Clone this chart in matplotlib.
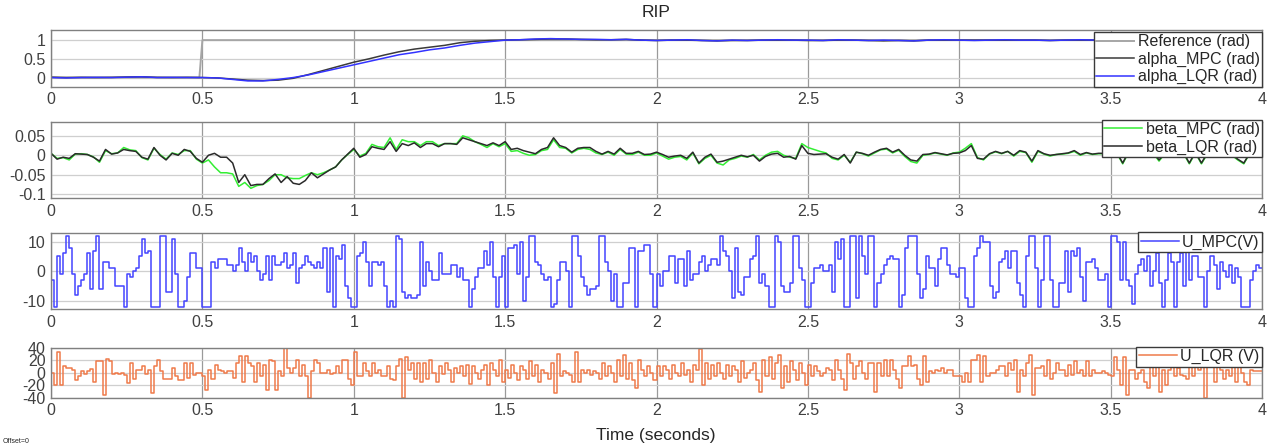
import numpy as np
import matplotlib
matplotlib.use('Agg')
from matplotlib import pyplot as plt

plt.rcParams['font.family'] = 'Liberation Sans'

# ---- data ----
ref_t = [0, 0.49, 0.5, 4]
ref_v = [0, 0, 1, 1]

alpha_dt = 0.05
alpha_lqr = [0.0, -0.01, 0.0, 0.005, 0.0, 0.01, 0.02, 0.0, 0.005, 0.0,
             0.0, -0.01, -0.05, -0.09, -0.09, -0.05, 0.0, 0.07, 0.16, 0.25,
             0.34, 0.43, 0.52, 0.61, 0.67, 0.74, 0.79, 0.86, 0.92, 0.96,
             1.0, 1.01, 1.03, 1.04, 1.03, 1.02, 1.02, 1.01, 1.02, 1.0,
             0.99, 1.0, 1.01, 0.99, 0.98, 1.0, 0.99, 1.0, 1.01, 1.0,
             1.0, 0.99, 1.01, 1.0, 0.99, 1.0, 0.99, 0.98, 1.0, 1.01,
             1.0, 0.99, 1.0, 1.01, 1.0, 1.0, 0.99, 1.0, 1.01, 1.0,
             1.0, 1.01, 0.99, 1.0, 1.0, 1.01, 1.0, 0.99, 1.0, 1.0,
             1.0]
alpha_mpc = [0.01, 0.0, 0.005, 0.0, 0.005, 0.015, 0.02, 0.005, 0.0, 0.005,
             0.0, -0.01, -0.04, -0.07, -0.08, -0.07, -0.02, 0.08, 0.19, 0.3,
             0.41, 0.5, 0.6, 0.69, 0.76, 0.81, 0.86, 0.93, 0.97, 0.99,
             1.0, 1.01, 1.02, 1.03, 1.03, 1.02, 1.01, 1.01, 1.02, 1.0,
             0.99, 1.0, 1.0, 0.99, 0.98, 0.99, 0.99, 1.0, 1.0, 1.0,
             0.99, 0.99, 1.0, 1.0, 0.99, 0.98, 0.99, 0.98, 1.0, 1.0,
             1.0, 1.0, 1.0, 1.0, 1.0, 1.0, 0.99, 1.0, 1.0, 1.0,
             1.0, 1.0, 0.99, 1.0, 1.0, 1.0, 1.0, 0.99, 1.0, 1.0,
             1.0]

beta_dt = 0.02
beta_lqr = [0.005, -0.01, -0.005, -0.008, 0.004, 0.003, 0.002, -0.005, -0.015, 0.015,
            0.003, 0.006, 0.015, 0.012, 0.01, -0.005, -0.01, 0.02, 0, -0.012,
            0.005, 0, 0.015, 0.01, -0.008, -0.018, 0, 0.005, -0.005, -0.005, -0.02,
            -0.07, -0.05, -0.078, -0.075, -0.075, -0.06, -0.048, -0.07, -0.055, -0.072,
            -0.075, -0.065, -0.045, -0.058, -0.048, -0.038, -0.03, -0.012, 0.003, 0.018,
            -0.005, 0.002, 0.022, 0.018, 0.015, 0.035, 0.01, 0.03, 0.025, 0.032,
            0.02, 0.03, 0.03, 0.022, 0.03, 0.03, 0.028, 0.045, 0.04, 0.035,
            0.03, 0.025, 0.032, 0.025, 0.035, 0.015, 0.018, 0.012, 0.008, 0.004,
            0.015, 0.02, 0.045, 0.025, 0.02, 0.008, 0.018, 0.02, 0.02, 0.01,
            0.003, 0.01, 0.003, 0.018, 0.005, 0.005, 0.01, 0.002, 0.003, 0.008,
            0.002, -0.005, -0.002, 0, -0.008, 0.008, -0.02, -0.005, 0.003, -0.018,
            -0.015, -0.01, -0.005, 0, -0.004, 0, -0.015, -0.003, 0.003, 0.005,
            -0.005, -0.003, -0.01, 0.025, 0.005, 0.002, 0.003, 0.004, -0.005, -0.01,
            0.002, -0.02, 0.008,
            0.005, 0.0, 0.008, 0.015, 0.018, 0.008,
            0.015, 0.0, -0.012, -0.015, 0.002, 0.003, 0.007, 0.004, 0.001, 0.005,
            0.006, 0.012, 0.025, -0.008, -0.01, 0.004, 0.01, 0.005, 0.01, 0.0,
            0.012, 0.008, -0.015, 0.012, 0.004, 0.0, 0.002, 0.004, 0.006, 0.012,
            0.002, 0.007, 0.003, 0.005, 0.005, 0.005, 0.008, -0.02, 0.01, 0.005,
            0.012, 0.003, 0.008, -0.012, 0.006, 0.01, 0.004, 0.008, -0.02, 0.008,
            -0.02, 0.006, 0.01, 0.004, 0.008, 0.002, -0.01, -0.02, 0.006, 0.004,
            0.006]
beta_mpc = [0.005, -0.008, -0.006, -0.012, 0.003, 0.004, 0.002, -0.004, -0.018, 0.012,
            0.004, 0.006, 0.02, 0.014, 0.012, -0.006, -0.012, 0.018, 0.002, -0.01,
            0.006, 0.002, 0.012, 0.012, -0.01, -0.02, -0.012, -0.03, -0.045, -0.045, -0.048,
            -0.08, -0.07, -0.085, -0.078, -0.075, -0.065, -0.05, -0.05, -0.058, -0.06,
            -0.06, -0.052, -0.045, -0.05, -0.045, -0.038, -0.03, -0.012, 0.002, 0.015,
            -0.002, 0.005, 0.028, 0.022, 0.02, 0.045, 0.015, 0.04, 0.035, 0.035,
            0.025, 0.035, 0.035, 0.025, 0.03, 0.03, 0.03, 0.05, 0.045, 0.035,
            0.028, 0.02, 0.03, 0.022, 0.03, 0.01, 0.012, 0.005, 0.0, 0.002,
            0.012, 0.015, 0.04, 0.02, 0.018, 0.006, 0.015, 0.018, 0.015, 0.006,
            0.002, 0.008, 0.0, 0.015, 0.003, 0.002, 0.008, 0.0, 0.0, 0.006,
            -0.002, -0.01, -0.005, -0.003, -0.012, 0.006, -0.022, -0.008, 0.0, -0.02,
            -0.025, -0.012, -0.008, -0.002, -0.005, 0.002, -0.012, 0.0, 0.008, 0.01,
            0.0, -0.005, -0.008, 0.03, 0.02, 0.015, 0.01, 0.006, -0.008, -0.012,
            0.0, -0.018, 0.008,
            0.004, -0.002, 0.006, 0.014, 0.016, 0.006,
            0.013, -0.003, -0.016, -0.02, 0.0, 0.002, 0.006, 0.003, 0.0, 0.006,
            0.008, 0.018, 0.03, -0.006, -0.012, 0.003, 0.009, 0.004, 0.01, -0.002,
            0.01, 0.007, -0.018, 0.01, 0.003, -0.002, 0.002, 0.003, 0.005, 0.01,
            0.0, 0.006, 0.002, 0.004, 0.004, 0.004, 0.006, -0.022, 0.008, 0.004,
            0.01, 0.002, 0.006, -0.015, 0.005, 0.008, 0.003, 0.006, -0.022, 0.006,
            -0.022, 0.004, 0.008, 0.003, 0.006, 0.0, -0.012, -0.022, 0.005, 0.003,
            0.005]

u_dt = 0.01
u_mpc = [-3, -12, 5, -1, 6, 12, 8, -1, -8, -5, -3, -1, 6, -6, 7, 12, -6, 3, 3, 1,
         1, -5, -5, -5, -12, -1, -2, 0, 1, 5, 11, 6, 7, -12, -12, -12, 12, 12, -7, -7,
         11, -1, -12, -12, -10, -2, 6, 6, 1, 1, -12, -12, -12, 3, 1, 4, 4, 4, 2, 2,
         0, 2, 8, 3, 0, 6, 3, 5, 0, -3, -1, 5, -3, 5, 2, 2, 3, 6, 1, 2,
         6, -4, 1, 2, 5, 3, 2, 1, 3, 1, 8, -7, 8, -12, 5, 4, 9, -5, -9, -12,
         -12, 5, 6, 10, 3, -5, 3, 3, 2, 3, -5, -12, -10, -12, 12, 11, -7, -9, -8, -9,
         -9, -8, 10, -5, 3, 0, -3, -3, 6, -1, -1, -1, 2, 2, -2, 1, -3, -3, -12, -6,
         -2, 1, 1, 7, 2, 10, -2, -12, -2, 5, -12, 8, 8, 9, -1, 10, -10, -2, 12, 12,
         3, 2, -1, -3, -2, -12, -11, -3, 3, 3, 0, -12, 12, 12, 5, -2, -5, -8, -6, -6,
         -5, 12, 12, 3, 0, -10, -1, -12, -12, -4, -4, 8, 8, -12, 7, 7, 9, 9, -1, -12,
         -1, -5, 0, 0, 5, 5, -4, 4, 4, -5, 7, -3, -1, -1, 3, 5, 0, 2, 4, 4,
         2, 12, 7, 5, 0, -9, 8, -7, -8, -2, -2, 4, 5, 12, -4, -1, -5, -12, -12, 12,
         10, -5, -7, -7, -4, 12, 12, 1, -3, -12, -12, -4, 1, 1, 2, 0, 0, 2, -7, 10,
         4, 11, -12, -12, 12, 12, -9, 12, 5, -1, 12, 12, -12, -4, -1, 2, 4, 5, 4, 4,
         -12, -8, 8, 12, 12, 12, -1, -9, -6, 5, 1, 1, -5, 4, 8, 8, 2, -1, -1, -2,
         1, 1, -9, -12, -12, 5, 8, 12, 10, 10, -5, -9, -7, 3, 4, 7, 1, 7, 7, -4,
         -8, -12, 5, 12, 12, 1, -12, -3, 12, 12, -3, -12, -12, -4, -4, 7, -7, 7, 5, 8,
         -2, -10, 3, 3, 4, 1, -3, -3, -1, -12, 12, 12, 10, -3, 10, -3, -5, -11, -1, 2,
         4, 0, 5, -5, 0, 6, -4, -12, -3, 6, 3, -12, 3, 6, -5, 8, -3, 5, 5, -2,
         -2, -12, 0, 5, 2, -6, 3, 0, -2, 2, -4, 1, -2, -12, -12, -12, -3, 0, 2, 1]
u_lqr = [0, -20, 33, -20, 10, 8, 8, 5, -12, -5, 3, -2, 2, 6, -15, 18, 18, -35, 22, 18,
         -2, 0, -2, 0, -3, -17, 15, -10, 5, 5, 10, -2, 5, -33, 10, 20, 3, -10, -10, -10,
         8, -5, -12, -12, 15, -8, 15, -3, 0, 0, -5, -28, 5, -10, 12, 5, 3, 0, 3, 3,
         -8, 15, 27, -15, 27, 15, 10, -15, 15, -5, 12, -27, 20, 18, -28, 3, -5, 40, 8, 0,
         8, 20, -5, 12, -5, -40, 2, 20, 15, 0, 0, 5, -2, 0, 10, 0, 20, 20, -10, -20,
         33, -5, -5, 15, 2, -5, 15, 0, 5, -5, -5, 10, -10, -12, 10, 22, -40, 25, 5, 15,
         -10, 15, -15, 15, -10, 20, 0, -15, 10, -2, 15, 5, -15, 8, 0, 10, -5, 12, -18, 10,
         0, -10, 5, 12, -20, 15, 5, -5, 20, -15, 5, -8, 12, 0, -12, 10, 5, -10, 18, -5,
         12, -15, 5, 0, -10, 15, -33, 30, -5, 2, 0, -3, -15, 33, -15, 5, 0, 5, -3, 2,
         0, -10, 15, -5, 10, 0, -15, 20, -5, 28, -10, 15, -12, -25, 20, 5, -5, 10, 0, -12,
         10, -5, 10, 5, -10, 12, 0, -5, 15, -3, 5, -15, 12, 5, 38, -20, 15, -10, 12, -5,
         15, 0, -10, 12, -5, 10, 5, -15, 18, -8, 0, 5, 15, -12, -30, 20, -5, 25, -10, 15,
         28, -25, 10, -15, 18, 5, -12, 15, 0, -20, 12, -5, 10, 3, -5, 0, 8, 5, -12, 20,
         5, -10, -28, 30, 15, -10, 10, 18, 0, -10, 15, 15, -30, 15, -5, 20, -5, 20, 5, -10,
         -25, 10, 10, 27, 10, 12, -10, -20, 27, -15, 2, 0, 5, 2, 8, 0, 5, 5, -5, -5,
         -5, -15, 0, -15, 20, 20, 28, -15, 27, -5, 0, 0, 5, 10, 10, -5, 15, 5, 20, -30,
         5, -5, 15, 28, -35, 8, 8, 10, -5, 20, -10, 0, 15, 5, 5, -5, 12, -3, 18, 0,
         5, -5, 18, -5, 5, 0, 0, 2, 0, -3, -5, 25, 5, -20, 25, -35, 5, 5, -10, 0,
         5, -15, -25, 10, -5, 10, -30, 5, -20, 5, 10, -5, 8, -3, -5, -10, 15, -5, 10, 5,
         10, -40, 10, 15, -15, 10, 5, -10, 5, -5, 10, -15, 12, 0, -15, -20, 5, 3, 3, 3]

xtick_vals = [0, 0.5, 1, 1.5, 2, 2.5, 3, 3.5, 4]
xtick_labels = ['0', '0.5', '1', '1.5', '2', '2.5', '3', '3.5', '4']

# ---- figure ----
fig = plt.figure(figsize=(12.76, 4.48), dpi=100)
boxes = [(0.806, 0.127), (0.558, 0.170), (0.310, 0.170), (0.112, 0.112)]
axes = [fig.add_axes([0.040, b, 0.949, h]) for b, h in boxes]
ax1, ax2, ax3, ax4 = axes

t_alpha = np.arange(len(alpha_lqr)) * alpha_dt
t_beta = np.arange(len(beta_lqr)) * beta_dt
t_u = np.arange(len(u_mpc) + 1) * u_dt

ax1.plot(ref_t, ref_v, color='#a6a6a6', lw=1.4, label='Reference (rad)')
ax1.plot(t_alpha, alpha_mpc, color='#3a3a3a', lw=1.1, label='alpha_MPC (rad)')
ax1.plot(t_alpha, alpha_lqr, color='#3333ff', lw=1.1, label='alpha_LQR (rad)')
ax1.set_ylim(-0.25, 1.27)
ax1.set_yticks([0, 0.5, 1])
ax1.set_yticklabels(['0', '0.5', '1'])

ax2.plot(t_beta, beta_mpc, color='#33ee33', lw=1.1, label='beta_MPC (rad)')
ax2.plot(t_beta, beta_lqr, color='#2a2a2a', lw=1.1, label='beta_LQR (rad)')
ax2.set_ylim(-0.11, 0.086)
ax2.set_yticks([-0.1, -0.05, 0, 0.05])
ax2.set_yticklabels(['-0.1', '-0.05', '0', '0.05'])

ax3.plot(t_u, u_mpc + [u_mpc[-1]], color='#4444ff', lw=1.1, drawstyle='steps-post',
         label='U_MPC(V)')
ax3.set_ylim(-12.7, 12.9)
ax3.set_yticks([-10, 0, 10])
ax3.set_yticklabels(['-10', '0', '10'])

ax4.plot(t_u, u_lqr + [u_lqr[-1]], color='#ef7a4a', lw=1.1, drawstyle='steps-post',
         label='U_LQR (V)')
ax4.set_ylim(-40, 40)
ax4.set_yticks([-40, -20, 0, 20, 40])
ax4.set_yticklabels(['-40', '-20', '0', '20', '40'])

leg_y = [0.965, 1.03, 1.01, 1.02]
for ax, ly in zip(axes, leg_y):
    ax.set_xlim(0, 4)
    ax.set_xticks(xtick_vals)
    ax.set_xticklabels(xtick_labels)
    ax.grid(True, axis='x', color='#9a9a9a', lw=0.9)
    ax.grid(True, axis='y', color='#cfcfcf', lw=0.9)
    ax.set_axisbelow(True)
    for s in ax.spines.values():
        s.set_color('#808080')
        s.set_linewidth(1.0)
    ax.tick_params(length=0, labelsize=11.5, colors='#404040', pad=4)
    leg = ax.legend(loc='upper right', bbox_to_anchor=(1.0, ly), fontsize=11.5,
                    frameon=True, fancybox=False, framealpha=1, edgecolor='#3a3a3a',
                    borderpad=0.15, labelspacing=0.15, handlelength=2.4,
                    handletextpad=0.2, borderaxespad=0)
    leg.get_frame().set_linewidth(1.0)
    for txt in leg.get_texts():
        txt.set_color('#262626')
    leg.set_zorder(10)

fig.text(0.514, 0.972, 'RIP', ha='center', va='center', fontsize=12.5, color='#262626')
fig.text(0.514, 0.029, 'Time (seconds)', ha='center', va='center', fontsize=12.5,
         color='#262626')
fig.text(0.002, 0.014, 'Offset=0', ha='left', va='center', fontsize=5, color='#262626')

plt.savefig('out.png', dpi=100)
